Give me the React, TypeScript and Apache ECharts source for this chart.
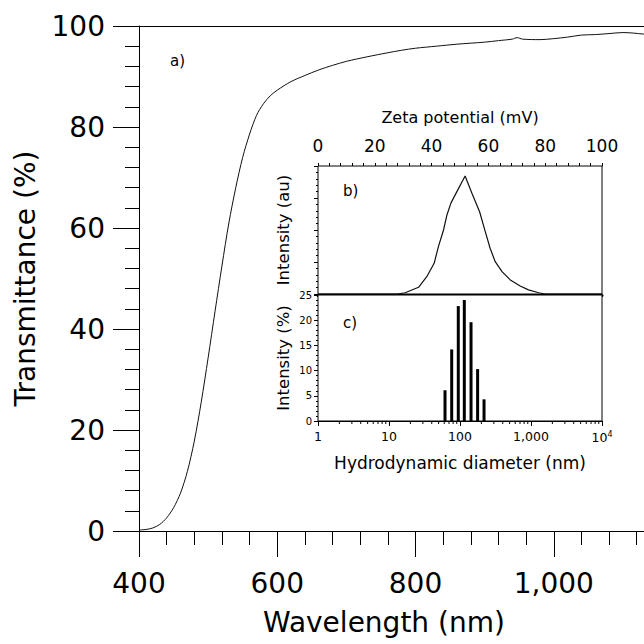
import React, { useEffect, useRef } from 'react';
import * as echarts from 'echarts';

// Main panel a): UV-vis transmittance
const wavelengthNm = [400, 410, 420, 430, 440, 450, 460, 470, 480, 490, 500, 510, 520, 530, 540, 550, 560, 570, 580, 590, 600, 620, 640, 660, 680, 700, 730, 760, 780, 800, 830, 860, 880, 900, 920, 940, 947, 955, 980, 1000, 1020, 1040, 1060, 1080, 1100, 1115, 1130, 1150];
const transmittance = [0.2, 0.3, 0.6, 1.3, 2.6, 4.6, 7.5, 11.8, 17.8, 25.5, 34.3, 43.5, 52.5, 61, 68, 74, 78.6, 82.3, 84.6, 86.2, 87.3, 89, 90.2, 91.3, 92.2, 93, 93.9, 94.7, 95.2, 95.6, 96.0, 96.4, 96.6, 96.8, 97.1, 97.4, 97.7, 97.4, 97.3, 97.5, 97.8, 98.2, 98.3, 98.5, 98.7, 98.6, 98.4, 98.3];

// Inset b): zeta potential distribution
const zetaMv = [0, 28, 30.7, 35.4, 38.3, 40.9, 42.4, 44.2, 45.4, 46.8, 48.9, 51.8, 54.2, 56.9, 58.9, 60.6, 62.4, 64.8, 67.7, 71.2, 74.1, 77.7, 80, 100];
const zetaIntensity = [0, 0, 0.04, 0.21, 0.54, 0.96, 1.48, 2.0, 2.47, 2.84, 3.2, 3.69, 3.15, 2.57, 1.95, 1.43, 1.01, 0.70, 0.44, 0.25, 0.13, 0.04, 0, 0];

// Inset c): hydrodynamic size distribution
const diameterNm = [61.5, 76.4, 94.6, 115, 143, 177, 218];
const sizeIntensity = [6.1, 14.2, 22.8, 24.0, 19.6, 10.3, 4.3];

// Log axis minor tick positions
const logDecades = [1, 10, 100, 1000];
const logMinorMultipliers = [2, 3, 4, 5, 6, 7, 8, 9];
const logTickLabels = ['1', '10', '100', '1,000', '10{sup|4}'];
const wavelengthLabels = [400, 600, 800, 1000];

const FONT = 'DejaVu Sans';
const INK = '#000';

export default function App() {
  const ref = useRef<HTMLDivElement>(null);
  useEffect(() => {
    if (!ref.current) return;
    const chart = echarts.init(ref.current, null, { renderer: 'svg' });

    const mainData = wavelengthNm.map((w, i) => [w, transmittance[i]]);
    const zetaData = zetaMv.map((z, i) => [z, zetaIntensity[i]]);
    const sizeData = diameterNm.map((d, i) => [d, sizeIntensity[i]]);
    const minorTicks: number[][] = [];
    logDecades.forEach((d) => logMinorMultipliers.forEach((m) => minorTicks.push([d * m, 0])));

    const line = { lineStyle: { color: INK, width: 1 } };

    const option: any = {
      animation: false,
      backgroundColor: '#fff',
      textStyle: { fontFamily: FONT, color: INK },
      grid: [
        { left: 139, top: 26, right: 0, bottom: 113, outerBoundsMode: 'none', containLabel: false },
        { left: 318, top: 166, width: 284, height: 128, show: true, borderColor: INK, borderWidth: 1, backgroundColor: '#fff', z: 5, outerBoundsMode: 'none', containLabel: false },
        { left: 318, top: 295, width: 284, height: 126, show: true, borderColor: INK, borderWidth: 1, backgroundColor: '#fff', z: 5, outerBoundsMode: 'none', containLabel: false },
      ],
      xAxis: [
        {
          gridIndex: 0, type: 'value', position: 'bottom', min: 400, max: 1200, interval: 200,
          axisLine: { show: true, onZero: false, ...line },
          axisTick: { show: true, length: 26, ...line },
          minorTick: { show: true, splitNumber: 5, length: 14, ...line },
          axisLabel: {
            fontSize: 28, margin: 38, color: INK, fontFamily: FONT,
            formatter: (v: number) => (wavelengthLabels.indexOf(v) >= 0 ? v.toLocaleString('en-US') : ''),
          },
          splitLine: { show: false },
        },
        {
          gridIndex: 0, type: 'value', position: 'top', min: 400, max: 1200,
          axisLine: { show: true, onZero: false, ...line },
          axisTick: { show: false }, axisLabel: { show: false }, splitLine: { show: false },
        },
        {
          gridIndex: 1, type: 'value', position: 'top', min: 0, max: 100, interval: 20,
          axisLine: { show: true, onZero: false, ...line },
          axisTick: { show: true, length: 3, ...line },
          minorTick: { show: true, splitNumber: 5, length: 3, ...line },
          axisLabel: { fontSize: 17, margin: 12, color: INK, fontFamily: FONT },
          splitLine: { show: false },
          name: 'Zeta potential (mV)', nameLocation: 'middle', nameGap: 41,
          nameTextStyle: { fontSize: 16, color: INK, fontFamily: FONT },
        },
        {
          gridIndex: 2, type: 'log', logBase: 10, position: 'bottom', min: 1, max: 10000,
          axisLine: { show: true, onZero: false, ...line },
          axisTick: { show: true, length: 5, ...line },
          minorTick: { show: false },
          axisLabel: {
            fontSize: 12.5, margin: 9, color: INK, fontFamily: FONT,
            formatter: (v: number) => logTickLabels[Math.round(Math.log10(v))] ?? '',
            rich: { sup: { fontSize: 8, verticalAlign: 'top', fontFamily: FONT, color: INK, padding: [0, 0, 6, 0] } },
          },
          splitLine: { show: false },
          name: 'Hydrodynamic diameter (nm)', nameLocation: 'middle', nameGap: 33,
          nameTextStyle: { fontSize: 17, color: INK, fontFamily: FONT },
        },
        {
          gridIndex: 2, type: 'value', position: 'top', min: 0, max: 1,
          axisLine: { show: true, onZero: false, lineStyle: { color: INK, width: 3 } },
          axisTick: { show: false }, axisLabel: { show: false }, splitLine: { show: false },
        },
      ],
      yAxis: [
        {
          gridIndex: 0, type: 'value', min: 0, max: 100, interval: 20,
          axisLine: { show: true, onZero: false, ...line },
          axisTick: { show: true, length: 26, ...line },
          minorTick: { show: true, splitNumber: 5, length: 14, ...line },
          axisLabel: { fontSize: 28, margin: 34, color: INK, fontFamily: FONT },
          splitLine: { show: false },
          name: 'Transmittance (%)', nameLocation: 'middle', nameGap: 100,
          nameTextStyle: { fontSize: 28, color: INK, fontFamily: FONT },
        },
        {
          gridIndex: 1, type: 'value', min: 0, max: 4, interval: 1,
          axisLine: { show: true, onZero: false, ...line },
          axisTick: { show: true, length: 4, ...line },
          minorTick: { show: true, splitNumber: 5, length: 2, ...line },
          axisLabel: { show: false },
          splitLine: { show: false },
          name: 'Intensity (au)', nameLocation: 'middle', nameGap: 26,
          nameTextStyle: { fontSize: 16.5, color: INK, fontFamily: FONT },
        },
        {
          gridIndex: 2, type: 'value', min: 0, max: 25, interval: 5,
          axisLine: { show: true, onZero: false, ...line },
          axisTick: { show: true, length: 4, ...line },
          minorTick: { show: true, splitNumber: 5, length: 2, ...line },
          axisLabel: { fontSize: 10, margin: 6, color: INK, fontFamily: FONT },
          splitLine: { show: false },
          name: 'Intensity (%)', nameLocation: 'middle', nameGap: 26,
          nameTextStyle: { fontSize: 16.5, color: INK, fontFamily: FONT },
        },
      ],
      series: [
        {
          type: 'line', xAxisIndex: 0, yAxisIndex: 0, data: mainData,
          showSymbol: false, smooth: 0.3, lineStyle: { color: '#111', width: 1 }, z: 2,
        },
        {
          type: 'line', xAxisIndex: 2, yAxisIndex: 1, data: zetaData,
          showSymbol: false, smooth: false, lineStyle: { color: '#111', width: 1.2 }, z: 6,
        },
        {
          type: 'custom', xAxisIndex: 3, yAxisIndex: 2, data: sizeData, z: 6,
          renderItem: (params: any, api: any) => {
            const top = api.coord([api.value(0), api.value(1)]);
            const base = api.coord([api.value(0), 0]);
            return {
              type: 'rect',
              shape: { x: top[0] - 1.5, y: top[1], width: 3, height: base[1] - top[1] },
              style: { fill: INK },
            };
          },
        },
        {
          type: 'custom', xAxisIndex: 3, yAxisIndex: 2, data: minorTicks, z: 6, silent: true,
          renderItem: (params: any, api: any) => {
            const p = api.coord([api.value(0), 0]);
            return {
              type: 'line',
              shape: { x1: p[0], y1: p[1], x2: p[0], y2: p[1] + 3 },
              style: { stroke: INK, lineWidth: 1 },
            };
          },
        },
      ],
      graphic: [
        { type: 'text', left: 384 - 121, top: 608, style: { text: 'Wavelength (nm)', fontSize: 28, fontFamily: FONT, fill: INK } },
        { type: 'text', left: 170, top: 53, style: { text: 'a)', fontSize: 15, fontFamily: FONT, fill: INK } },
        { type: 'text', left: 343, top: 183, z: 20, style: { text: 'b)', fontSize: 15, fontFamily: FONT, fill: INK } },
        { type: 'text', left: 343, top: 315, z: 20, style: { text: 'c)', fontSize: 15, fontFamily: FONT, fill: INK } },
      ],
    };
    chart.setOption(option);
    return () => chart.dispose();
  }, []);
  return (
    <div style={{ position: 'fixed', left: 0, top: 0, width: 644, height: 644, overflow: 'hidden', background: '#fff' }}>
      <div ref={ref} style={{ width: 692, height: 644 }} />
    </div>
  );
}
